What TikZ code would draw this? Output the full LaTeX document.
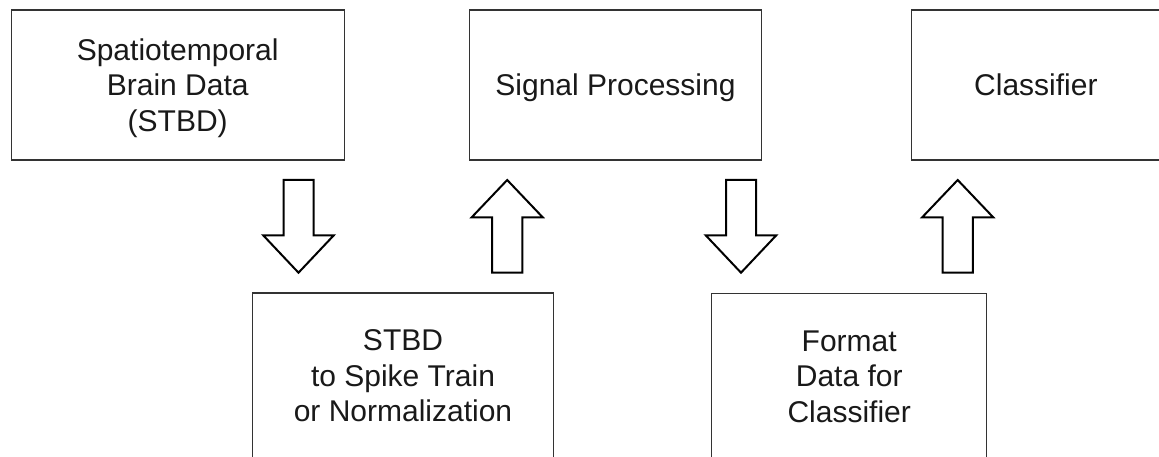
\documentclass[tikz,border=0pt]{standalone}
\usepackage{fontspec}
\setmainfont{Liberation Sans}
\begin{document}
\begin{tikzpicture}[x=1pt, y=-1pt,
  stage/.style={draw=black!80, line width=1.1pt, rectangle, inner sep=0pt, outer sep=0pt,
    align=center, text depth=0pt, font=\fontsize{30}{35.5}\selectfont, text=black!90},
  blockarrow/.style={draw=black, line width=2pt, fill=white, line join=miter}]
\useasboundingbox (0,0) rectangle (1159,457);
\clip (0,0) rectangle (1159,457);

% processing stages, upper row
\node[stage, minimum width=333.3pt, minimum height=150pt] (stbd) at (177.7,85)
  {Spatiotemporal\\Brain Data\\(STBD)};
\node[stage, minimum width=292.4pt, minimum height=150pt] (sigproc) at (615.5,85)
  {Signal Processing};
\node[stage, minimum width=248.3pt, minimum height=150pt] (classifier) at (1035.9,85)
  {Classifier};

% processing stages, lower row
\node[stage, minimum width=300.6pt, minimum height=166pt] (encode) at (403,376)
  {STBD\\to Spike Train\\or Normalization};
\node[stage, minimum width=275pt, minimum height=166pt] (format) at (849.2,376.3)
  {Format\\Data for\\Classifier};

% tips of the hollow block arrows
\coordinate (d1) at (298.5,272.7);
\coordinate (u1) at (507.2,180);
\coordinate (d2) at (741,272.7);
\coordinate (u2) at (957.7,180);

% downward arrows
\foreach \t in {d1,d2}
  \draw[blockarrow] (\t) -- ++(-35.3,-37.4) -- ++(20.3,0) -- ++(0,-55.3)
    -- ++(30,0) -- ++(0,55.3) -- ++(20.3,0) -- cycle;
% upward arrows
\foreach \t in {u1,u2}
  \draw[blockarrow] (\t) -- ++(-35.5,37.3) -- ++(20.3,0) -- ++(0,55.4)
    -- ++(30.4,0) -- ++(0,-55.4) -- ++(20.3,0) -- cycle;
\end{tikzpicture}
\end{document}
